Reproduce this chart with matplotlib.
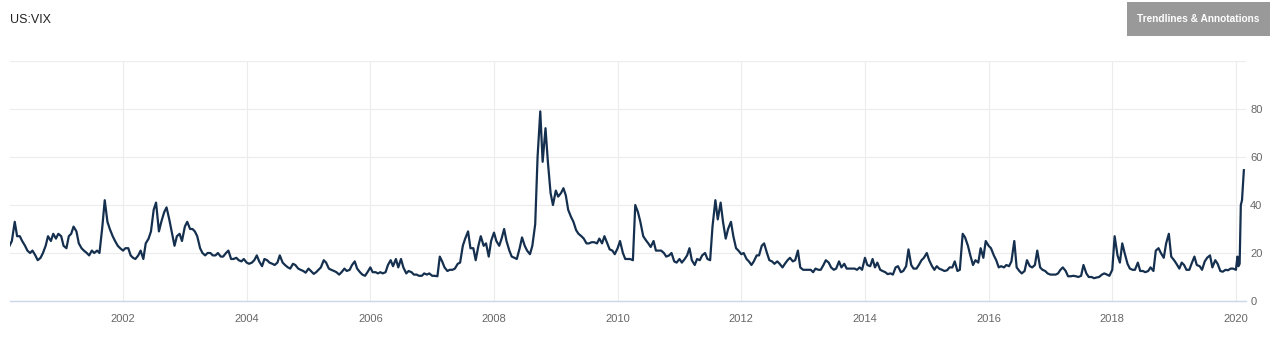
import pandas as pd
import matplotlib
matplotlib.use('Agg')
import matplotlib.pyplot as plt
from matplotlib.patches import Rectangle

plt.rcParams['font.family'] = ['Liberation Sans', 'DejaVu Sans']

# semi-monthly VIX readings (1st and 15th), starting March 2000
vix_2000 = [23, 25, 33, 27, 27, 25, 23, 21, 20, 21, 19, 17, 18, 20, 23, 27, 25, 28, 26, 28]
vix_2001 = [27, 23, 22, 27, 28, 31, 29, 24, 22, 21, 20, 19, 21, 20, 21, 20, 31, 42, 33, 30, 27, 25, 23, 22]
vix_2002 = [21, 22, 22, 19, 18, 17.5, 19, 21, 17.5, 24, 26, 29, 38, 41, 29, 33, 37, 39, 34, 29, 23, 27, 28, 25]
vix_2003 = [31, 33, 30, 30, 29, 27, 22, 20, 19, 20, 20, 19, 19, 20, 18.5, 18.5, 20, 21, 17.5, 17.5, 18, 17, 16.5, 17.5]
vix_2004 = [16, 15.5, 16, 17, 19, 16.5, 14.5, 17.5, 17, 16, 15.5, 15, 16, 19, 16, 15, 14, 13.5, 15.5, 15, 13.5, 13, 12.5, 11.8]
vix_2005 = [13.5, 12.5, 11.3, 12, 13, 14, 17, 16, 13.5, 13, 12.5, 12, 11, 12, 13.5, 12.5, 13, 15, 16.5, 13.5, 12, 11, 10.5, 12]
vix_2006 = [14, 12, 12, 11.5, 12, 11.5, 12, 15, 17, 14.5, 17.5, 14, 17.5, 14, 11.5, 12.5, 12, 11, 11, 10.5, 10.5, 11.5, 11, 11.5]
vix_2007 = [10.5, 10.5, 10.3, 18.5, 16.5, 14, 12.5, 13, 13, 13.5, 15.5, 16, 23, 26, 29, 22, 22, 17, 23, 27, 23, 24, 18.5, 25]
vix_2008 = [28.5, 25, 23, 26, 30, 25, 21, 18.5, 18, 17.5, 22, 26.5, 23, 21, 19.5, 23, 32, 60, 79, 58, 72, 58, 45, 40]
vix_2009 = [46, 43.5, 45, 47, 44, 38, 35, 33, 29.5, 28, 27, 26, 24, 24, 24.5, 24.5, 24, 26, 24, 27, 24, 21.5, 21, 19.5]
vix_2010 = [22, 25, 20, 17.5, 17.5, 17.5, 17, 40, 37, 33, 27, 25.5, 24, 22.5, 25, 21, 21, 21, 20, 18.5, 19, 20, 16.5, 16]
vix_2011 = [17.5, 16, 17.5, 19, 22, 17, 15, 17.5, 17, 19, 20, 17.5, 17, 31, 42, 34, 41, 33, 26, 30, 33, 27, 22, 21]
vix_2012 = [19.5, 20, 17.5, 16.5, 15, 16.5, 19, 19, 23, 24, 20, 17, 16.5, 15.5, 16.5, 15.5, 14, 15.5, 17, 18, 16.5, 17, 21, 14]
vix_2013 = [13, 13, 13, 13, 12, 13.5, 13, 13, 15, 17, 16, 14, 13, 13.5, 16.5, 14, 15.5, 13.5, 13.5, 13.5, 13.5, 13, 14, 13]
vix_2014 = [18, 15, 14.5, 17.5, 14, 16, 13, 12.5, 12, 11.2, 11.5, 11, 14, 14.5, 12, 12.5, 14.5, 21.5, 15, 13.5, 13.5, 15, 17, 18]
vix_2015 = [20, 17, 14.5, 13, 14.5, 13.5, 13, 12.5, 12.8, 14, 14, 16.5, 12.5, 13, 28, 26.5, 23, 19, 15, 17, 16, 22, 18, 25]
vix_2016 = [23, 22, 19, 17, 14, 14.5, 14, 15, 14.5, 16.5, 25, 14, 12.5, 11.5, 12.5, 17, 14.5, 14, 15, 21, 14, 13, 12.5, 11.5]
vix_2017 = [11, 11, 11, 11.5, 13, 14, 12.5, 10.3, 10.3, 10.5, 10.3, 10, 10.5, 15, 11.5, 10, 10, 9.5, 9.8, 10, 11, 11.5, 11, 10.5]
vix_2018 = [13, 27, 19, 16, 24, 20, 15.5, 13.5, 13, 13, 16, 12.5, 12.5, 12, 12.5, 14, 12.5, 21, 22, 20, 18, 24, 28, 18.5]
vix_2019 = [17, 15.5, 13.5, 16, 15, 13, 13, 15.7, 18.5, 15, 14.5, 13, 16.5, 18, 19, 14, 17, 15.5, 12.5, 12.2, 13, 12.8, 13.5, 13.5]
vix_2020 = [13]

# last few weekly readings
tail_dates = ['2020-01-10', '2020-01-16', '2020-01-23', '2020-01-30', '2020-02-06', '2020-02-17']
tail_vals = [18.5, 14.5, 15.5, 40, 42, 54.5]

bulk = (vix_2000 + vix_2001 + vix_2002 + vix_2003 + vix_2004 + vix_2005 + vix_2006
        + vix_2007 + vix_2008 + vix_2009 + vix_2010 + vix_2011 + vix_2012 + vix_2013
        + vix_2014 + vix_2015 + vix_2016 + vix_2017 + vix_2018 + vix_2019 + vix_2020)
dates = pd.date_range('2000-03-01', periods=len(bulk), freq='SMS')
dates = dates.append(pd.to_datetime(tail_dates))
values = bulk + tail_vals

df = pd.DataFrame({'date': dates, 'vix': values})
df['yr'] = df['date'].dt.year + (df['date'].dt.dayofyear - 1) / (365 + df['date'].dt.is_leap_year.astype(int))

W, H = 1279, 342
fig = plt.figure(figsize=(W / 100, H / 100), dpi=100)
ax = fig.add_axes([10 / W, 1 - 301 / H, 1236 / W, 240 / H])

ax.plot(df['yr'], df['vix'], color='#15304f', lw=1.6, zorder=3)

ax.set_xlim(2000.172, 2020.163)
ax.set_ylim(0, 100)
ax.set_xticks(range(2002, 2021, 2))
ax.set_xticklabels([str(y) for y in range(2002, 2021, 2)])
ax.set_yticks([0, 20, 40, 60, 80, 100])
ax.set_yticklabels(['0', '20', '40', '60', '80', ''])
ax.yaxis.tick_right()
ax.grid(True, color='#ececec', lw=0.8, zorder=0)
ax.tick_params(axis='both', length=0, labelsize=8, labelcolor='#666666')
ax.tick_params(axis='x', pad=9)
ax.tick_params(axis='y', pad=3)
for s in ['top', 'left', 'right']:
    ax.spines[s].set_visible(False)
ax.spines['bottom'].set_color('#ccd6eb')
ax.spines['bottom'].set_linewidth(1)

fig.text(10 / W, 1 - 20 / H, 'US:VIX', fontsize=9, color='#222222', va='center', ha='left')

fig.patches.append(Rectangle((1127 / W, 1 - 36 / H), 143 / W, 34 / H,
                             transform=fig.transFigure, facecolor='#999999', edgecolor='none'))
fig.text(1198.5 / W, 1 - 19 / H, 'Trendlines & Annotations', fontsize=7.3, color='white',
         ha='center', va='center', weight='bold')

fig.savefig('out.png', dpi=100)
